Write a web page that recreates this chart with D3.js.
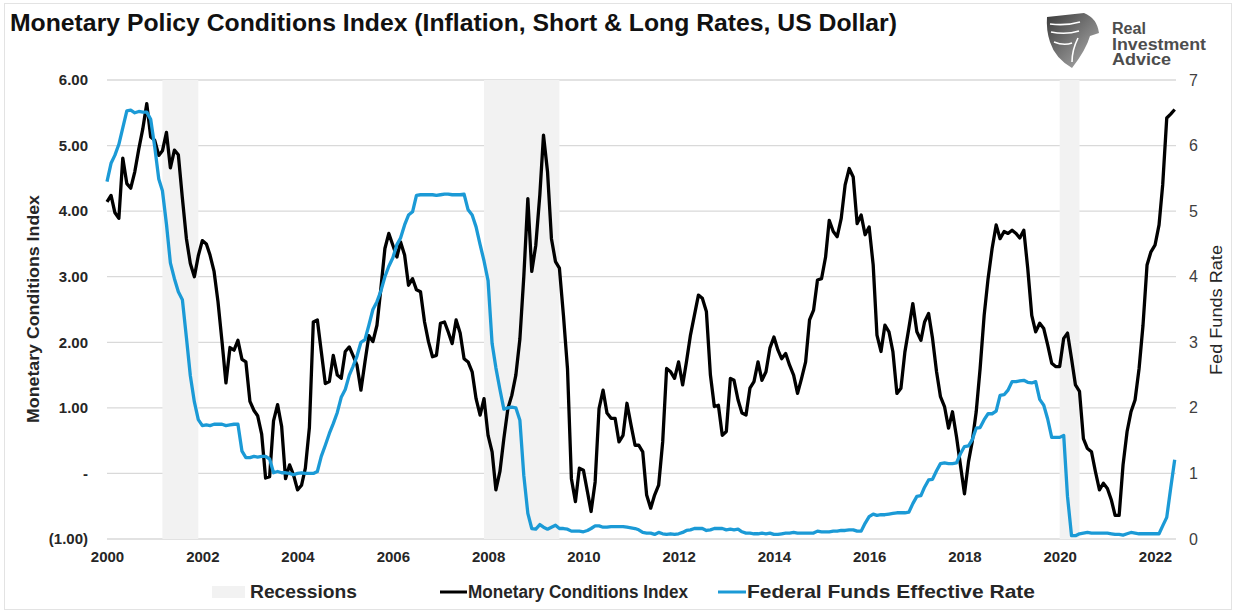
<!DOCTYPE html>
<html>
<head>
<meta charset="utf-8">
<script src="https://d3js.org/d3.v7.min.js"></script>
<style>
body { margin: 0; background: #fff; }
text { font-family: Arial, "Liberation Sans", sans-serif; }
</style>
</head>
<body>
<svg width="1236" height="614"></svg>
<script>
// ---- data ----
var chartTitle = "Monetary Policy Conditions Index (Inflation, Short & Long Rates, US Dollar)";
var firstYear = 2000;   // monthly series start in Jan 2000

var mciValues = [
  4.14, 4.24, 3.98, 3.89, 4.81, 4.42, 4.35, 4.60, 4.95, 5.25, 5.64, 5.13,   // 2000
  5.08, 4.85, 4.92, 5.20, 4.66, 4.93, 4.86, 4.20, 3.58, 3.20, 3.00, 3.32,   // 2001
  3.55, 3.50, 3.33, 3.08, 2.62, 2.01, 1.38, 1.92, 1.88, 2.03, 1.74, 1.70,   // 2002
  1.10, 0.96, 0.88, 0.60, -0.07, -0.05, 0.80, 1.05, 0.72, -0.08, 0.13, -0.02, // 2003
  -0.25, -0.18, 0.08, 0.70, 2.31, 2.34, 1.86, 1.37, 1.40, 1.80, 1.50, 1.45, // 2004
  1.86, 1.93, 1.80, 1.65, 1.27, 1.70, 2.10, 2.01, 2.26, 2.82, 3.43, 3.66,   // 2005
  3.48, 3.30, 3.53, 3.33, 2.87, 2.97, 2.80, 2.77, 2.31, 2.01, 1.78, 1.80,   // 2006
  2.29, 2.31, 2.16, 1.98, 2.34, 2.14, 1.75, 1.70, 1.55, 1.14, 0.89, 1.14,   // 2007
  0.58, 0.33, -0.25, 0.03, 0.53, 0.99, 1.19, 1.50, 2.05, 3.00, 4.19, 3.08,  // 2008
  3.48, 4.25, 5.16, 4.60, 3.58, 3.23, 3.13, 2.41, 1.60, -0.08, -0.43, 0.08, // 2009
  0.05, -0.28, -0.58, -0.13, 0.99, 1.27, 0.92, 0.84, 0.84, 0.48, 0.58, 1.07, // 2010
  0.74, 0.43, 0.43, 0.33, -0.33, -0.53, -0.33, -0.18, 0.48, 1.60, 1.55, 1.45, // 2011
  1.70, 1.35, 1.70, 2.11, 2.41, 2.72, 2.67, 2.47, 1.50, 1.02, 1.04, 0.58,   // 2012
  0.64, 1.45, 1.42, 1.12, 0.92, 0.89, 1.30, 1.40, 1.70, 1.42, 1.55, 1.91,   // 2013
  2.08, 1.88, 1.75, 1.83, 1.65, 1.50, 1.22, 1.45, 1.70, 2.34, 2.49, 2.95,   // 2014
  2.97, 3.30, 3.86, 3.69, 3.61, 3.89, 4.40, 4.65, 4.52, 3.81, 3.94, 3.64,   // 2015
  3.76, 3.18, 2.11, 1.86, 2.26, 2.16, 1.86, 1.22, 1.30, 1.85, 2.22, 2.59,   // 2016
  2.16, 2.03, 2.31, 2.44, 2.06, 1.55, 1.17, 1.02, 0.69, 0.94, 0.56, 0.13,   // 2017
  -0.31, 0.18, 0.48, 0.94, 1.60, 2.41, 2.97, 3.43, 3.79, 3.58, 3.69, 3.66, // 2018
  3.71, 3.66, 3.59, 3.71, 3.13, 2.41, 2.16, 2.29, 2.21, 1.96, 1.68, 1.63,   // 2019
  1.63, 2.06, 2.14, 1.75, 1.35, 1.25, 0.53, 0.38, 0.33, 0.03, -0.25, -0.15, // 2020
  -0.23, -0.41, -0.64, -0.64, 0.13, 0.64, 0.94, 1.12, 1.60, 2.26, 3.18, 3.38, // 2021
  3.48, 3.79, 4.40, 5.42, 5.48, 5.55                                        // 2022
];

var fedFundsValues = [
  5.45, 5.73, 5.85, 6.02, 6.27, 6.53, 6.54, 6.50, 6.52, 6.51, 6.51, 6.40,   // 2000
  5.98, 5.49, 5.31, 4.80, 4.21, 3.97, 3.77, 3.65, 3.07, 2.49, 2.09, 1.82,   // 2001
  1.73, 1.74, 1.73, 1.75, 1.75, 1.75, 1.73, 1.74, 1.75, 1.75, 1.34, 1.24,   // 2002
  1.24, 1.26, 1.25, 1.26, 1.26, 1.22, 1.01, 1.03, 1.01, 1.01, 1.00, 0.98,   // 2003
  1.00, 1.01, 1.00, 1.00, 1.00, 1.03, 1.26, 1.43, 1.61, 1.76, 1.93, 2.16,   // 2004
  2.28, 2.50, 2.63, 2.79, 3.00, 3.04, 3.26, 3.50, 3.62, 3.78, 4.00, 4.16,   // 2005
  4.29, 4.49, 4.59, 4.79, 4.94, 4.99, 5.24, 5.25, 5.25, 5.25, 5.25, 5.24,   // 2006
  5.25, 5.26, 5.26, 5.25, 5.25, 5.25, 5.26, 5.02, 4.94, 4.76, 4.49, 4.24,   // 2007
  3.94, 2.98, 2.61, 2.28, 1.98, 2.00, 2.01, 2.00, 1.81, 0.97, 0.39, 0.16,   // 2008
  0.15, 0.22, 0.18, 0.15, 0.18, 0.21, 0.16, 0.16, 0.15, 0.12, 0.12, 0.12,   // 2009
  0.11, 0.13, 0.16, 0.20, 0.20, 0.18, 0.18, 0.19, 0.19, 0.19, 0.19, 0.18,   // 2010
  0.17, 0.16, 0.14, 0.10, 0.09, 0.09, 0.07, 0.10, 0.08, 0.07, 0.08, 0.07,   // 2011
  0.08, 0.10, 0.13, 0.14, 0.16, 0.16, 0.16, 0.13, 0.14, 0.16, 0.16, 0.16,   // 2012
  0.14, 0.15, 0.14, 0.15, 0.11, 0.09, 0.09, 0.08, 0.08, 0.09, 0.08, 0.09,   // 2013
  0.07, 0.07, 0.08, 0.09, 0.09, 0.10, 0.09, 0.09, 0.09, 0.09, 0.09, 0.12,   // 2014
  0.11, 0.11, 0.11, 0.12, 0.12, 0.13, 0.13, 0.14, 0.14, 0.12, 0.12, 0.24,   // 2015
  0.34, 0.38, 0.36, 0.37, 0.37, 0.38, 0.39, 0.40, 0.40, 0.40, 0.41, 0.54,   // 2016
  0.65, 0.66, 0.79, 0.90, 0.91, 1.04, 1.15, 1.16, 1.15, 1.15, 1.16, 1.30,   // 2017
  1.41, 1.42, 1.51, 1.69, 1.70, 1.82, 1.91, 1.91, 1.95, 2.19, 2.20, 2.27,   // 2018
  2.40, 2.40, 2.41, 2.42, 2.39, 2.38, 2.40, 2.13, 2.04, 1.83, 1.55, 1.55,   // 2019
  1.55, 1.58, 0.65, 0.05, 0.05, 0.08, 0.09, 0.10, 0.09, 0.09, 0.09, 0.09,   // 2020
  0.09, 0.08, 0.07, 0.07, 0.06, 0.08, 0.10, 0.09, 0.08, 0.08, 0.08, 0.08,   // 2021
  0.08, 0.08, 0.20, 0.33, 0.77, 1.21                                        // 2022
];

// recession shading, [first month, month after last]
var recessions = [["2001-03", "2001-12"], ["2007-12", "2009-07"], ["2020-01", "2020-06"]];

var yearTicks = [2000, 2002, 2004, 2006, 2008, 2010, 2012, 2014, 2016, 2018, 2020, 2022];
var leftTicks = [-1, 0, 1, 2, 3, 4, 5, 6];
var rightTicks = [0, 1, 2, 3, 4, 5, 6, 7];
var leftAxisTitle = "Monetary Conditions Index";
var rightAxisTitle = "Fed Funds Rate";
var legendLabels = ["Recessions", "Monetary Conditions Index", "Federal Funds Effective Rate"];
var brandLines = ["Real", "Investment", "Advice"];

// ---- drawing ----
var svg = d3.select("svg");
var plotLeft = 107, plotRight = 1176, plotTop = 80, plotBottom = 539;
var blue = "#1b9ad6";

var parseMonth = d3.timeParse("%Y-%m");
var monthDate = function(i) { return new Date(firstYear, i, 1); };

var x = d3.scaleTime()
  .domain([new Date(2000, 0, 1), new Date(2022, 0, 1)])
  .range([plotLeft, 1155]);
var yL = d3.scaleLinear().domain([-1, 6]).range([plotBottom, plotTop]);
var yR = d3.scaleLinear().domain([0, 7]).range([plotBottom, plotTop]);

// frame round the picture
svg.append("rect")
  .attr("x", 4.5).attr("y", 3.5).attr("width", 1227).attr("height", 606)
  .attr("fill", "none").attr("stroke", "#e3e3e3");

// title
svg.append("text")
  .attr("x", 10).attr("y", 31)
  .attr("textLength", 887).attr("lengthAdjust", "spacingAndGlyphs")
  .style("font-size", "24px").style("font-weight", "bold").attr("fill", "#111")
  .text(chartTitle);

// gridlines
svg.append("g").selectAll("line")
  .data(leftTicks).enter().append("line")
  .attr("x1", plotLeft).attr("x2", plotRight)
  .attr("y1", function(d) { return yL(d); })
  .attr("y2", function(d) { return yL(d); })
  .attr("stroke", "#d9d9d9").attr("stroke-width", 1.3);

// recession bands
svg.append("g").selectAll("rect")
  .data(recessions).enter().append("rect")
  .attr("x", function(d) { return x(parseMonth(d[0])); })
  .attr("width", function(d) { return x(parseMonth(d[1])) - x(parseMonth(d[0])); })
  .attr("y", plotTop).attr("height", plotBottom - plotTop)
  .attr("fill", "#f2f2f2");

// series
var mci = mciValues.map(function(v, i) { return { date: monthDate(i), v: v }; });
var ff = fedFundsValues.map(function(v, i) { return { date: monthDate(i), v: v }; });

svg.append("path")
  .datum(mci)
  .attr("fill", "none").attr("stroke", "#000").attr("stroke-width", 3.3)
  .attr("stroke-linejoin", "round")
  .attr("d", d3.line().x(function(d) { return x(d.date); }).y(function(d) { return yL(d.v); }));

svg.append("path")
  .datum(ff)
  .attr("fill", "none").attr("stroke", blue).attr("stroke-width", 3.3)
  .attr("stroke-linejoin", "round")
  .attr("d", d3.line().x(function(d) { return x(d.date); }).y(function(d) { return yR(d.v); }));

// axes
var leftFmt = function(v) {
  if (v === 0) return "-";
  if (v < 0) return "(" + d3.format(".2f")(-v) + ")";
  return d3.format(".2f")(v);
};

var gx = svg.append("g")
  .attr("transform", "translate(0," + plotBottom + ")")
  .call(d3.axisBottom(x)
    .tickValues(yearTicks.map(function(y) { return new Date(y, 0, 1); }))
    .tickFormat(d3.timeFormat("%Y")).tickSize(0).tickPadding(12));

var gl = svg.append("g")
  .attr("transform", "translate(" + plotLeft + ",0)")
  .call(d3.axisLeft(yL).tickValues(leftTicks).tickFormat(leftFmt).tickSize(0).tickPadding(19));

var gr = svg.append("g")
  .attr("transform", "translate(" + plotRight + ",0)")
  .call(d3.axisRight(yR).tickValues(rightTicks).tickFormat(d3.format("d")).tickSize(0).tickPadding(13));

[gx, gl, gr].forEach(function(g) { g.select(".domain").remove(); });
gx.selectAll("text").style("font-size", "15px").style("font-weight", "bold").attr("fill", "#262626")
  .style("font-family", "Arial, 'Liberation Sans', sans-serif");
gl.selectAll("text").style("font-size", "15px").style("font-weight", "bold").attr("fill", "#262626")
  .style("font-family", "Arial, 'Liberation Sans', sans-serif");
gr.selectAll("text").style("font-size", "16px").attr("fill", "#404040")
  .style("font-family", "Arial, 'Liberation Sans', sans-serif");

// axis titles
svg.append("text")
  .attr("transform", "translate(39,309) rotate(-90)")
  .attr("text-anchor", "middle")
  .attr("textLength", 228).attr("lengthAdjust", "spacingAndGlyphs")
  .style("font-size", "17px").style("font-weight", "bold").attr("fill", "#262626")
  .text(leftAxisTitle);

svg.append("text")
  .attr("transform", "translate(1222,310) rotate(-90)")
  .attr("text-anchor", "middle")
  .attr("textLength", 130).attr("lengthAdjust", "spacingAndGlyphs")
  .style("font-size", "17px").attr("fill", "#262626")
  .text(rightAxisTitle);

// legend
var legend = svg.append("g");
legend.append("rect").attr("x", 212).attr("y", 586).attr("width", 33).attr("height", 12).attr("fill", "#f2f2f2");
legend.append("line").attr("x1", 440).attr("x2", 467).attr("y1", 592).attr("y2", 592)
  .attr("stroke", "#000").attr("stroke-width", 3);
legend.append("line").attr("x1", 718).attr("x2", 746).attr("y1", 592).attr("y2", 592)
  .attr("stroke", blue).attr("stroke-width", 3);

var legendX = [250, 468, 747];
var legendW = [107, 220, 288];
legend.selectAll("text.lab")
  .data(legendLabels).enter().append("text")
  .attr("class", "lab")
  .attr("x", function(d, i) { return legendX[i]; })
  .attr("y", 598)
  .attr("textLength", function(d, i) { return legendW[i]; })
  .attr("lengthAdjust", "spacingAndGlyphs")
  .style("font-size", "18px").style("font-weight", "bold").attr("fill", "#262626")
  .text(function(d) { return d; });

// brand mark
var logo = svg.append("g");
var grad = svg.append("defs").append("linearGradient")
  .attr("id", "eagle").attr("x1", 0).attr("y1", 0).attr("x2", 1).attr("y2", 1);
grad.append("stop").attr("offset", "0%").attr("stop-color", "#3a3a3a");
grad.append("stop").attr("offset", "100%").attr("stop-color", "#b5b5b5");
logo.append("path")
  .attr("d", "M1047,17 L1084,13 Q1097,18 1099,33 L1090,36 Q1086,50 1072,68 Q1055,58 1050,42 Q1046,30 1047,17 Z")
  .attr("fill", "url(#eagle)");
logo.append("path")
  .attr("d", "M1050,24 Q1066,26 1080,22 M1051,32 Q1066,35 1079,31 M1054,42 Q1064,46 1072,43 M1078,38 Q1072,50 1072,62")
  .attr("fill", "none").attr("stroke", "#fff").attr("stroke-width", 1.6);
logo.selectAll("text")
  .data(brandLines).enter().append("text")
  .attr("x", 1112)
  .attr("y", function(d, i) { return 34 + i * 15.5; })
  .attr("textLength", function(d, i) { return [34, 94, 59][i]; })
  .attr("lengthAdjust", "spacingAndGlyphs")
  .style("font-size", "16px").style("font-weight", "bold").attr("fill", "#4d4d4d")
  .text(function(d) { return d; });
</script>
</body>
</html>
